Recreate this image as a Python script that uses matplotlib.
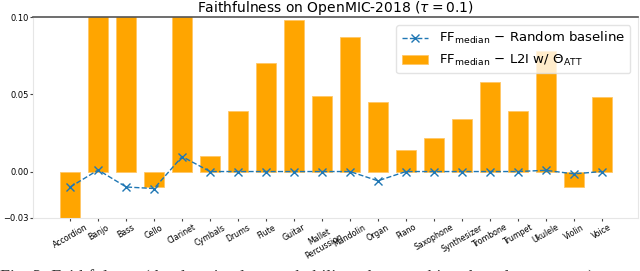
import numpy as np
import matplotlib.pyplot as plt

instruments = ['Accordion', 'Banjo', 'Bass', 'Cello', 'Clarinet', 'Cymbals', 'Drums',
               'Flute', 'Guitar', 'Mallet\nPercussion', 'Mandolin', 'Organ', 'Piano',
               'Saxophone', 'Synthesizer', 'Trombone', 'Trumpet', 'Ukulele', 'Violin', 'Voice']
l2i_att = [-0.04, 0.12, 0.12, -0.010, 0.12, 0.010, 0.039, 0.070, 0.098, 0.049, 0.087,
           0.045, 0.014, 0.022, 0.034, 0.058, 0.039, 0.078, -0.010, 0.048]
random_base = [-0.010, 0.001, -0.010, -0.011, 0.0097, 0.0, 0.0, 0.0, 0.0, 0.0, 0.0,
               -0.006, 0.0, 0.0, 0.0, 0.0, 0.0, 0.0008, -0.0015, 0.0]

x = np.arange(len(instruments))

fig = plt.figure(figsize=(6.4, 2.71), dpi=100)
ax = fig.add_axes([0.052, 0.196, 0.945, 0.741])

ax.bar(x, l2i_att, width=0.7, color='orange', edgecolor='#ffc766', linewidth=0.6,
       label=r'$\mathrm{FF}_{\mathrm{median}}$ $-$ L2I w/ $\Theta_{\mathrm{ATT}}$', zorder=2)
ax.plot(x, random_base, linestyle='--', marker='x', color='#1f77b4', linewidth=1.0,
        markersize=6, label=r'$\mathrm{FF}_{\mathrm{median}}$ $-$ Random baseline', zorder=3)

ax.set_ylim(-0.03, 0.10)
ax.set_xlim(-1.32, 20.3)
ax.set_yticks([-0.03, 0.0, 0.05, 0.10])
ax.set_yticklabels(['\u22120.03', '0.00', '0.05', '0.10'], fontsize=6)
ax.set_xticks(x)
ax.set_xticklabels(instruments, rotation=30, fontsize=5.7)
ax.tick_params(axis='x', length=2.5, color='#444', pad=1)
ax.tick_params(axis='y', length=2.5, color='#444', pad=1)

for s in ['left', 'bottom', 'right']:
    ax.spines[s].set_color('#e6e6e6')
ax.spines['top'].set_color('#555555')
ax.spines['top'].set_linewidth(1.2)

ax.set_title(r'Faithfulness on OpenMIC-2018 ($\tau = 0.1$)', fontsize=10, pad=1.5)

ax.legend(loc='upper right', fontsize=9.5, framealpha=0.8, edgecolor='#dddddd',
          borderaxespad=0.6, handlelength=2.0)

# caption of the source figure, cropped at the bottom edge as in the reference
fig.text(0.0, -0.06, 'Fig. 3: Faithfulness (the drop in class probability when masking the relevant parts) on',
         family='Liberation Serif', fontsize=13, color='#333333', va='bottom')

fig.savefig('out.png', dpi=100)
